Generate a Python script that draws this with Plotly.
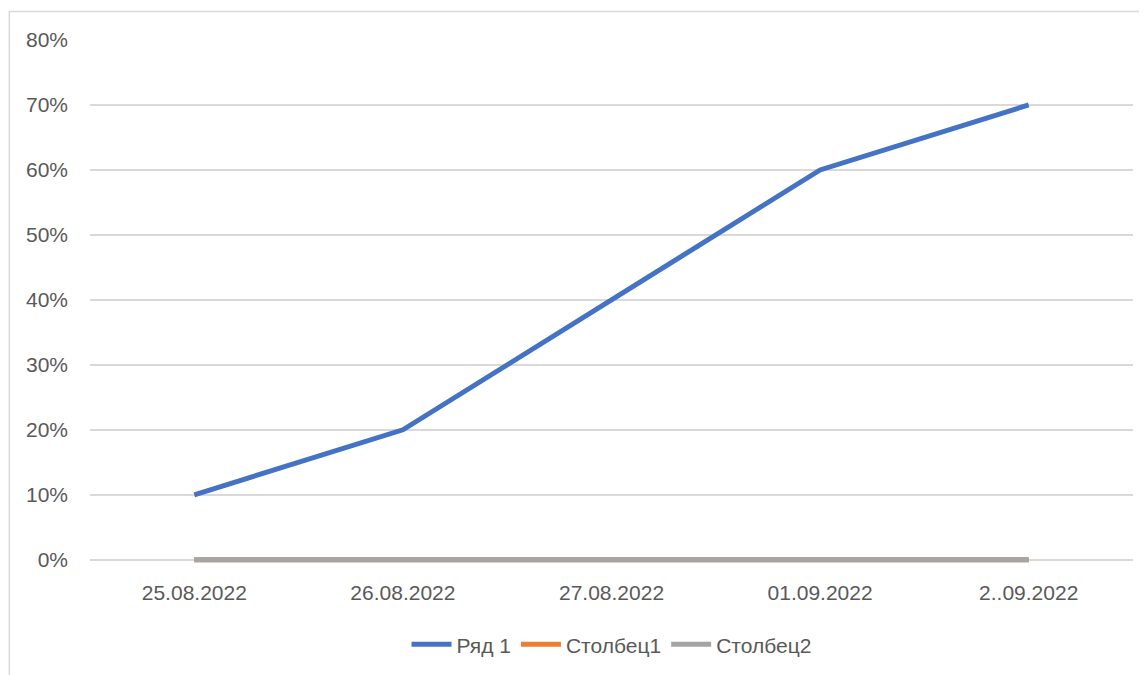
import plotly.graph_objects as go

categories = ["25.08.2022", "26.08.2022", "27.08.2022", "01.09.2022", "2..09.2022"]
series_names = ["Ряд 1", "Столбец1", "Столбец2"]
row1 = [0.10, 0.20, 0.40, 0.60, 0.70]
col1 = [0, 0, 0, 0, 0]
col2 = [0, 0, 0, 0, 0]
y_ticks = [0, 0.1, 0.2, 0.3, 0.4, 0.5, 0.6, 0.7, 0.8]

colors = ["#4472C4", "#ED7D31", "#A5A5A5"]
font_family = "Liberation Sans, Arial, sans-serif"
text_color = "#595959"

fig = go.Figure()
for name, vals, c in zip(series_names, [row1, col1, col2], colors):
    fig.add_trace(go.Scatter(
        x=categories, y=vals, name=name, mode="lines",
        line=dict(color=c, width=5),
    ))

# page body has an 8px margin; compensate so the figure fills the window
OFF = 8
W, H = 1147 - OFF, 675 - OFF
y_lo = -0.005            # small pad so the zero-valued lines are not clipped
px_per_unit = 520 / 0.8
pad = -y_lo * px_per_unit
l, r, t, b = 89.5 - OFF, 13.5, 40 - OFF, 115 - pad
pw, ph = W - l - r, H - t - b
zero_y = 560 - OFF       # figure-pixel y of the 0% line

fig.update_layout(
    width=W, height=H,
    margin=dict(l=l, r=r, t=t, b=b, autoexpand=False),
    paper_bgcolor="white", plot_bgcolor="white",
    font=dict(family=font_family, size=21, color=text_color),
    showlegend=True,
    legend=dict(orientation="h", x=0.5, xanchor="center",
                y=(t + ph - (645 - OFF)) / ph, yanchor="middle", yref="paper",
                font=dict(size=21, color=text_color), itemwidth=40,
                traceorder="normal"),
    xaxis=dict(type="category", range=[-0.5, 4.5], showgrid=False,
               showline=False, zeroline=False,
               ticks="", tickfont=dict(size=21, color=text_color),
               ticklabelstandoff=15),
    yaxis=dict(range=[y_lo, 0.8], tickvals=y_ticks, tickformat=".0%",
               showgrid=True, gridcolor="#D9D9D9", gridwidth=1.5,
               zeroline=False, showline=False, ticks="",
               tickfont=dict(size=21, color=text_color),
               ticklabelstandoff=21),
    shapes=[dict(type="rect", xref="paper", yref="paper",
                 x0=(0.75 - l) / pw, x1=1.2, y0=-0.5,
                 y1=(t + ph - 3.5) / ph,
                 line=dict(color="#D9D9D9", width=1.5), layer="below")],
)

fig.write_html("out.html")
